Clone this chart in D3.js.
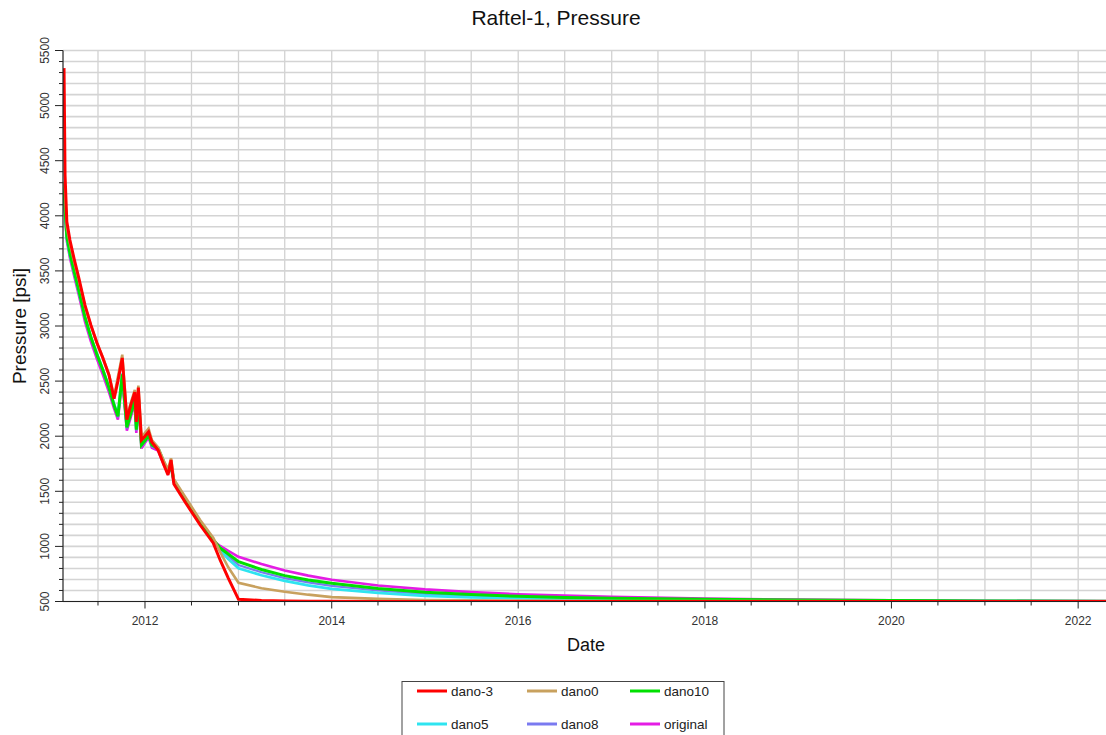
<!DOCTYPE html>
<html><head><meta charset="utf-8">
<script src="https://cdn.jsdelivr.net/npm/d3@7"></script>
<style>
body{margin:0;background:#fff}
svg{display:block}
text{font-family:Arial,"Liberation Sans",sans-serif}
</style>
</head><body><svg id="c" width="1106" height="735"></svg>
<script>
const chartTitle = "Raftel-1, Pressure";
const xTitle = "Date";
const yTitle = "Pressure [psi]";

const dates = ["2011-02-18","2011-02-22","2011-03-01","2011-03-13","2011-03-29","2011-04-17","2011-05-11","2011-06-03","2011-06-27","2011-07-20","2011-08-13",
 "2011-09-02","2011-09-17","2011-10-04","2011-10-22","2011-11-06","2011-11-22","2011-11-28","2011-12-06","2011-12-18","2012-01-01","2012-01-15","2012-01-28",
 "2012-02-21","2012-03-15","2012-03-31","2012-04-12","2012-04-23","2012-06-06","2012-08-04","2012-09-24",
 "2012-10-21","2012-11-22",
 "2013-01-01","2013-04-01","2013-07-01","2013-10-01","2014-01-01","2014-07-01","2015-01-01","2015-07-01","2016-01-01","2016-07-01","2017-01-01",
 "2018-01-01","2019-01-01","2020-01-01","2021-01-01","2022-04-20"];

const danoM3 = [5340,4370,3945,3780,3615,3435,3190,3010,2845,2710,2555,
 2340,2500,2710,2150,2280,2400,2130,2440,1965,2000,2040,1945,
 1875,1739,1648,1784,1566,1403,1194,1031,
 877,713,
 520,509,505,503,502,501,501,500,500,500,500,
 500,500,500,500,500];
const dano0 = [4310,4200,3900,3750,3590,3420,3180,3005,2845,2715,2560,
 2360,2540,2740,2180,2300,2420,2160,2460,1990,2030,2070,1965,
 1900,1775,1700,1800,1610,1450,1240,1080,
 950,810,
 670,620,589,562,540,524,514,510,508,506,505,
 504,503,502,501,501];
const dano10 = [4280,4060,3810,3660,3500,3320,3080,2900,2740,2600,2440,
 2280,2180,2560,2080,2200,2330,2060,2360,1920,1960,2010,1920,
 1890,1760,1680,1730,1595,1430,1220,1060,
 985,931,
 861,790,735,695,665,618,585,563,547,537,530,
 520,513,508,505,502];
const dano5 = [4270,4050,3800,3650,3495,3315,3080,2900,2745,2605,2445,
 2290,2190,2570,2090,2210,2340,2070,2370,1930,1970,2015,1925,
 1895,1765,1685,1735,1600,1435,1225,1060,
 967,886,
 801,738,688,647,615,578,552,538,528,522,517,
 511,507,504,503,501];
const dano8 = [4260,4040,3790,3640,3485,3305,3070,2890,2730,2590,2430,
 2270,2170,2550,2070,2190,2320,2050,2350,1910,1950,2000,1905,
 1885,1755,1675,1725,1590,1425,1215,1058,
 976,913,
 831,765,712,673,641,600,569,550,537,529,523,
 515,510,506,504,502];
const original = [4240,4020,3770,3620,3460,3280,3040,2860,2700,2560,2400,
 2250,2150,2520,2050,2170,2300,2030,2330,1890,1940,1990,1895,
 1870,1740,1665,1715,1580,1420,1210,1050,
 1004,959,
 906,840,782,735,697,645,610,585,566,553,543,
 527,517,510,506,503];

const seriesNames = ["dano-3","dano0","dano10","dano5","dano8","original"];
const seriesValues = [danoM3, dano0, dano10, dano5, dano8, original];
const seriesColors = ["#ff0000","#c8a15e","#00e000","#2ee4f0","#7a7af0","#e41ce4"];
const seriesWidths = [3, 2.6, 3, 2.8, 2.2, 2.6];
const drawOrder = [5,4,3,2,1,0];

const yTickValues = [500,1000,1500,2000,2500,3000,3500,4000,4500,5000,5500];
const yTickLabels = ["500","1000","1500","2000","2500","3000","3500","4000","4500","5000","5500"];
const xTickYears = [2012,2014,2016,2018,2020,2022];
const xTickLabels = ["2012","2014","2016","2018","2020","2022"];

const parse = d3.timeParse("%Y-%m-%d");
const svg = d3.select("#c");
const L = 63, R = 1106, T = 50.5, B = 601.5;

const x = d3.scaleTime().domain([parse("2011-02-14"), parse("2022-04-20")]).range([L, R]);
const y = d3.scaleLinear().domain([500, 5500]).range([B, T]);

// grid
const g = svg.append("g");
const halfYears = d3.timeMonth.every(6).range(x.domain()[0], x.domain()[1]);
g.selectAll("line.v").data(halfYears).enter().append("line")
  .attr("x1", d => x(d)).attr("x2", d => x(d)).attr("y1", T).attr("y2", B)
  .attr("stroke", "#d2d2d2").attr("stroke-width", 1.3);
const hVals = d3.range(500, 5501, 100);
g.selectAll("line.h").data(hVals).enter().append("line")
  .attr("x1", L).attr("x2", R).attr("y1", d => y(d)).attr("y2", d => y(d))
  .attr("stroke", "#d4d4d4").attr("stroke-width", 1.6);

// lines
svg.append("clipPath").attr("id", "clp").append("rect")
  .attr("x", L).attr("y", T - 5).attr("width", R - L).attr("height", B - T + 5);
const lineGen = d3.line().x(d => x(d[0])).y(d => y(d[1])).curve(d3.curveLinear);
const lg = svg.append("g").attr("clip-path", "url(#clp)");
drawOrder.forEach(i => {
  const pts = dates.map((dt, k) => [parse(dt), seriesValues[i][k]]);
  lg.append("path").datum(pts).attr("d", lineGen)
    .attr("fill", "none").attr("stroke", seriesColors[i])
    .attr("stroke-width", seriesWidths[i]).attr("stroke-linejoin", "miter").attr("stroke-miterlimit", 3);
});

// axes
const yAxisG = svg.append("g");
yAxisG.append("line").attr("x1", L).attr("x2", L).attr("y1", T).attr("y2", B).attr("stroke", "#222").attr("stroke-width", 1.2);
yAxisG.selectAll("line.mn").data(hVals).enter().append("line")
  .attr("x1", d => (d % 500 === 0) ? L - 8 : L - 4).attr("x2", L)
  .attr("y1", d => y(d)).attr("y2", d => y(d)).attr("stroke", "#222").attr("stroke-width", 1);
yAxisG.selectAll("text").data(yTickValues).enter().append("text")
  .attr("transform", d => `translate(49,${y(d)}) rotate(-90)`)
  .attr("text-anchor", "middle").attr("font-size", 12).attr("fill", "#333")
  .text((d, i) => yTickLabels[i]);

const xAxisG = svg.append("g");
xAxisG.append("line").attr("x1", L).attr("x2", R).attr("y1", B).attr("y2", B).attr("stroke", "#222").attr("stroke-width", 1.2);
xAxisG.selectAll("line.t").data(halfYears).enter().append("line")
  .attr("x1", d => x(d)).attr("x2", d => x(d)).attr("y1", B).attr("y2", d => (d.getMonth() === 0 && d.getFullYear() % 2 === 0) ? B + 7 : B + 4)
  .attr("stroke", "#222").attr("stroke-width", 1);
xAxisG.selectAll("text").data(xTickYears).enter().append("text")
  .attr("x", d => x(new Date(d, 0, 1))).attr("y", 625)
  .attr("text-anchor", "middle").attr("font-size", 12).attr("fill", "#333")
  .text((d, i) => xTickLabels[i]);

// titles
svg.append("text").attr("x", 556).attr("y", 25).attr("text-anchor", "middle")
  .attr("font-size", 21).attr("fill", "#111").text(chartTitle);
svg.append("text").attr("x", 586).attr("y", 651).attr("text-anchor", "middle")
  .attr("font-size", 18).attr("fill", "#111").text(xTitle);
svg.append("text").attr("transform", "translate(26,326) rotate(-90)").attr("text-anchor", "middle")
  .attr("font-size", 19).attr("fill", "#111").text(yTitle);

// legend
const leg = svg.append("g");
leg.append("rect").attr("x", 402).attr("y", 681.5).attr("width", 322).attr("height", 70)
  .attr("fill", "#fff").attr("stroke", "#444").attr("stroke-width", 1);
const colX = [417, 527, 630];
const rowY = [691, 724];
seriesNames.forEach((nm, i) => {
  const cx = colX[i % 3], cy = rowY[Math.floor(i / 3)];
  leg.append("line").attr("x1", cx).attr("x2", cx + 30).attr("y1", cy).attr("y2", cy)
    .attr("stroke", seriesColors[i]).attr("stroke-width", 3);
  leg.append("text").attr("x", cx + 34).attr("y", cy + 5).attr("font-size", 13.5).attr("fill", "#222").text(nm);
});
</script>
</body></html>
